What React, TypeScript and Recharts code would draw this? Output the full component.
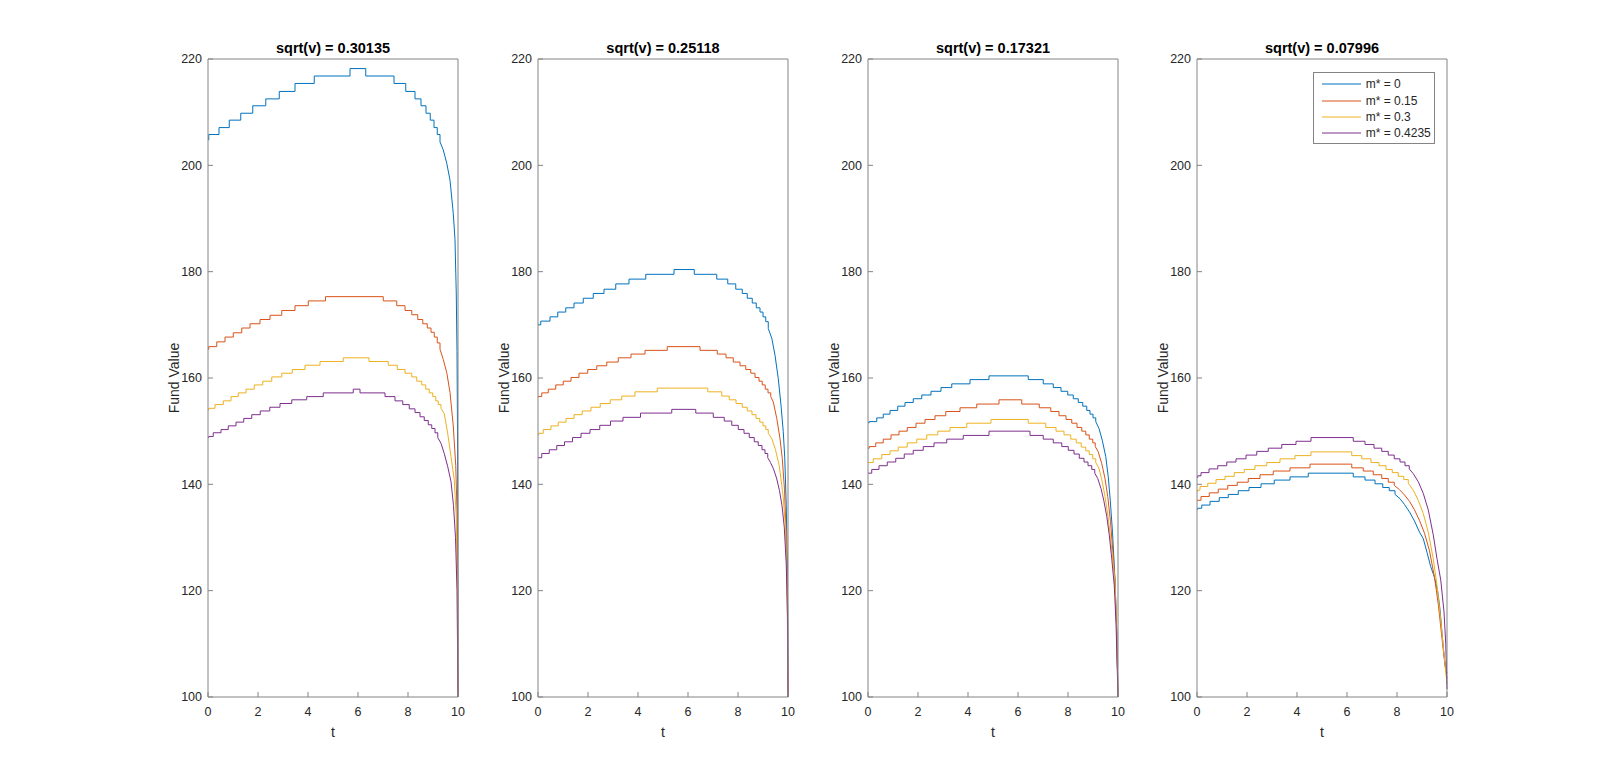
import React from "react";
import { LineChart, Line, XAxis, YAxis, Legend } from "recharts";

type Pt = [number, number];

const tTicks = [0, 2, 4, 6, 8, 10];
const vTicks = [100, 120, 140, 160, 180, 200, 220];
const seriesNames = ["m* = 0", "m* = 0.15", "m* = 0.3", "m* = 0.4235"];
const seriesColors = ["#0072BD", "#D95319", "#EDB120", "#7E2F8E"];
const panelTitles = [
  "sqrt(v) = 0.30135",
  "sqrt(v) = 0.25118",
  "sqrt(v) = 0.17321",
  "sqrt(v) = 0.07996",
];

// panel 1 : sqrt(v) = 0.30135
const p1m0: Pt[] = [
  [0, 204.8], [0.03, 205.8], [0.44, 207.1], [0.85, 208.5], [1.31, 209.8], [1.79, 211.2],
  [2.31, 212.5], [2.85, 213.9], [3.48, 215.4], [4.25, 216.8], [5.68, 218.2], [6.31, 216.8],
  [7.44, 215.4], [7.91, 213.9], [8.28, 212.5], [8.52, 211.2], [8.72, 209.8], [8.89, 208.5],
  [9.04, 207.1], [9.17, 205.8], [9.28, 204.4], [9.41, 202.9], [9.55, 200.4], [9.68, 197.2],
  [9.81, 191.0], [9.88, 186.0], [9.93, 176], [9.96, 165], [9.98, 150], [9.99, 135], [10, 100],
];
const p1m15: Pt[] = [
  [0, 165.4], [0.03, 165.9], [0.35, 166.8], [0.68, 167.7], [1.01, 168.5], [1.35, 169.4],
  [1.68, 170.2], [2.08, 171.0], [2.48, 171.8], [2.95, 172.7], [3.48, 173.6], [4.01, 174.5],
  [4.7, 175.3], [7.01, 174.5], [7.55, 173.6], [7.88, 172.7], [8.15, 171.9], [8.39, 171.0],
  [8.59, 170.2], [8.77, 169.4], [8.92, 168.6], [9.05, 167.7], [9.17, 166.6], [9.28, 165.4],
  [9.41, 163.5], [9.55, 161.0], [9.68, 157.3], [9.81, 151.0], [9.91, 143.5], [9.96, 135],
  [9.99, 120], [10, 100],
];
const p1m30: Pt[] = [
  [0, 154.0], [0.03, 154.3], [0.28, 155.0], [0.61, 155.7], [0.92, 156.5], [1.21, 157.2],
  [1.52, 157.9], [1.85, 158.7], [2.19, 159.4], [2.55, 160.2], [2.95, 160.9], [3.37, 161.6],
  [3.88, 162.4], [4.48, 163.1], [5.41, 163.8], [6.44, 163.1], [7.21, 162.4], [7.57, 161.6],
  [7.88, 160.9], [8.15, 160.2], [8.35, 159.4], [8.55, 158.7], [8.71, 157.9], [8.85, 157.2],
  [8.99, 156.5], [9.11, 155.7], [9.21, 155.0], [9.32, 154.3], [9.45, 153.3], [9.59, 149.5],
  [9.72, 145.2], [9.85, 140.8], [9.93, 134], [9.98, 120], [10, 100],
];
const p1m42: Pt[] = [
  [0, 148.8], [0.03, 149.0], [0.21, 149.7], [0.52, 150.3], [0.81, 151.0], [1.12, 151.7],
  [1.43, 152.4], [1.75, 153.1], [2.09, 153.8], [2.47, 154.5], [2.88, 155.2], [3.35, 155.9],
  [3.95, 156.5], [4.61, 157.2], [5.81, 157.9], [6.08, 157.2], [7.08, 156.5], [7.48, 155.7],
  [7.79, 155.0], [8.05, 154.2], [8.28, 153.5], [8.48, 152.7], [8.65, 152.0], [8.81, 151.2],
  [8.95, 150.5], [9.08, 149.7], [9.19, 148.8], [9.32, 147.7], [9.45, 145.8], [9.59, 143.3],
  [9.72, 140.5], [9.82, 136], [9.9, 130], [9.96, 120], [10, 100],
];

// panel 2 : sqrt(v) = 0.25118
const p2m0: Pt[] = [
  [0, 170.0], [0.11, 170.7], [0.48, 171.5], [0.79, 172.4], [1.11, 173.2], [1.44, 174.1],
  [1.81, 175.0], [2.21, 175.9], [2.64, 176.7], [3.11, 177.7], [3.64, 178.6], [4.31, 179.5],
  [5.44, 180.4], [6.25, 179.5], [7.15, 178.6], [7.59, 177.7], [7.91, 176.7], [8.17, 175.9],
  [8.37, 175.0], [8.57, 174.1], [8.73, 173.2], [8.88, 172.4], [9.0, 171.5], [9.11, 170.6],
  [9.21, 169.3], [9.35, 167.5], [9.48, 164.3], [9.61, 159.9], [9.72, 154.9], [9.81, 149.9],
  [9.87, 145], [9.93, 136], [9.97, 125], [9.99, 115], [10, 100],
];
const p2m15: Pt[] = [
  [0, 156.5], [0.15, 157.2], [0.41, 157.9], [0.71, 158.7], [1.01, 159.4], [1.32, 160.1],
  [1.64, 160.9], [1.99, 161.6], [2.35, 162.3], [2.75, 163.0], [3.21, 163.8], [3.72, 164.5],
  [4.28, 165.2], [5.17, 165.9], [6.48, 165.2], [7.17, 164.5], [7.52, 163.8], [7.81, 163.0],
  [8.08, 162.3], [8.31, 161.6], [8.51, 160.9], [8.68, 160.1], [8.84, 159.4], [8.97, 158.7],
  [9.09, 157.9], [9.2, 157.2], [9.31, 156.5], [9.41, 155.5], [9.55, 152.4], [9.68, 148.6],
  [9.77, 144.9], [9.86, 139], [9.93, 130], [9.98, 118], [10, 100],
];
const p2m30: Pt[] = [
  [0, 149.3], [0.03, 149.6], [0.21, 150.3], [0.52, 151.0], [0.81, 151.7], [1.12, 152.4],
  [1.44, 153.1], [1.77, 153.8], [2.12, 154.5], [2.49, 155.2], [2.89, 155.9], [3.35, 156.6],
  [3.88, 157.4], [4.77, 158.1], [6.79, 157.4], [7.35, 156.6], [7.65, 155.9], [7.92, 155.2],
  [8.17, 154.5], [8.37, 153.8], [8.56, 153.1], [8.72, 152.4], [8.87, 151.7], [9.0, 151.0],
  [9.11, 150.3], [9.21, 149.6], [9.35, 148.6], [9.5, 146.5], [9.65, 143.5], [9.8, 138],
  [9.9, 132], [9.96, 122], [10, 100],
];
const p2m42: Pt[] = [
  [0, 145.0], [0.15, 145.8], [0.45, 146.5], [0.75, 147.3], [1.06, 148.0], [1.38, 148.8],
  [1.72, 149.6], [2.08, 150.3], [2.47, 151.1], [2.9, 151.9], [3.4, 152.6], [4.1, 153.4],
  [5.35, 154.1], [6.31, 153.4], [7.01, 152.6], [7.45, 151.9], [7.75, 151.1], [8.01, 150.3],
  [8.24, 149.6], [8.45, 148.8], [8.65, 148.0], [8.81, 147.3], [8.96, 146.5], [9.08, 145.8],
  [9.19, 145.0], [9.3, 144.1], [9.42, 142.9], [9.54, 141.2], [9.66, 138.8], [9.76, 136],
  [9.85, 132], [9.93, 125], [9.98, 115], [10, 100],
];

// panel 3 : sqrt(v) = 0.17321
const p3m0: Pt[] = [
  [0, 151.6], [0.05, 151.8], [0.35, 152.5], [0.61, 153.2], [0.88, 153.9], [1.19, 154.7],
  [1.48, 155.4], [1.81, 156.1], [2.15, 156.8], [2.52, 157.5], [2.92, 158.2], [3.35, 158.9],
  [4.08, 159.7], [4.84, 160.4], [6.41, 159.7], [7.01, 158.9], [7.41, 158.2], [7.72, 157.5],
  [7.99, 156.8], [8.21, 156.1], [8.41, 155.4], [8.59, 154.7], [8.75, 153.9], [8.88, 153.2],
  [9.0, 152.5], [9.11, 151.8], [9.24, 150.5], [9.37, 148.3], [9.51, 145.2], [9.61, 141.4],
  [9.69, 137.0], [9.78, 131], [9.88, 122], [9.95, 112], [10, 100],
];
const p3m15: Pt[] = [
  [0, 146.8], [0.05, 147.1], [0.31, 147.8], [0.61, 148.5], [0.92, 149.3], [1.24, 150.0],
  [1.57, 150.7], [1.92, 151.5], [2.28, 152.2], [2.68, 152.9], [3.11, 153.7], [3.68, 154.4],
  [4.35, 155.1], [5.24, 155.9], [6.15, 155.1], [6.85, 154.4], [7.31, 153.7], [7.64, 152.9],
  [7.92, 152.2], [8.15, 151.5], [8.36, 150.7], [8.55, 150.0], [8.71, 149.3], [8.85, 148.5],
  [8.99, 147.8], [9.09, 147.1], [9.21, 146.1], [9.35, 143.9], [9.48, 141.1], [9.59, 137.7],
  [9.7, 133], [9.8, 127], [9.88, 122], [9.95, 112], [10, 100],
];
const p3m30: Pt[] = [
  [0, 144.1], [0.21, 144.8], [0.55, 145.6], [0.88, 146.3], [1.21, 147.0], [1.57, 147.8],
  [1.95, 148.5], [2.35, 149.3], [2.79, 150.0], [3.28, 150.7], [3.95, 151.5], [4.92, 152.2],
  [6.41, 151.5], [7.11, 150.7], [7.52, 150.0], [7.84, 149.3], [8.11, 148.5], [8.33, 147.8],
  [8.53, 147.0], [8.71, 146.3], [8.85, 145.6], [8.99, 144.8], [9.11, 144.1], [9.24, 143.0],
  [9.37, 140.5], [9.48, 137.7], [9.6, 134], [9.7, 130], [9.8, 125.5], [9.88, 121.5],
  [9.95, 112], [10, 100],
];
const p3m42: Pt[] = [
  [0, 142.1], [0.15, 142.8], [0.44, 143.5], [0.77, 144.2], [1.11, 144.9], [1.45, 145.7],
  [1.81, 146.4], [2.21, 147.1], [2.64, 147.8], [3.15, 148.5], [3.81, 149.2], [4.84, 150.0],
  [6.48, 149.2], [7.01, 148.5], [7.41, 147.8], [7.75, 147.1], [8.01, 146.4], [8.24, 145.7],
  [8.45, 144.9], [8.64, 144.2], [8.8, 143.5], [8.95, 142.8], [9.07, 142.1], [9.19, 141.1],
  [9.32, 139.2], [9.43, 137.0], [9.55, 134], [9.65, 130.5], [9.75, 126], [9.85, 121],
  [9.92, 114], [10, 100],
];

// panel 4 : sqrt(v) = 0.07996
const p4m0: Pt[] = [
  [0, 135.3], [0.03, 135.5], [0.19, 136.1], [0.52, 136.8], [0.89, 137.5], [1.25, 138.1],
  [1.65, 138.8], [2.08, 139.4], [2.56, 140.1], [3.09, 140.8], [3.72, 141.4], [4.45, 142.1],
  [6.25, 141.4], [6.72, 140.8], [7.12, 140.1], [7.43, 139.4], [7.69, 138.8], [7.92, 138.1],
  [8.12, 137.3], [8.3, 136.2], [8.5, 134.8], [8.7, 133.1], [8.9, 131.0], [9.05, 129.8],
  [9.2, 127.2], [9.35, 124.5], [9.5, 122.5], [9.63, 119.8], [9.72, 116.5], [9.8, 112],
  [9.88, 108], [9.94, 105.5], [10, 104.5],
];
const p4m15: Pt[] = [
  [0, 137.0], [0.16, 137.7], [0.49, 138.4], [0.85, 139.1], [1.23, 139.8], [1.61, 140.4],
  [2.05, 141.1], [2.52, 141.8], [3.05, 142.5], [3.72, 143.1], [4.52, 143.8], [6.19, 143.1],
  [6.65, 142.5], [7.05, 141.8], [7.39, 141.1], [7.65, 140.4], [7.89, 139.8], [8.1, 139.0],
  [8.3, 138.0], [8.5, 136.8], [8.7, 135.2], [8.9, 133.2], [9.1, 130.8], [9.3, 127.5],
  [9.5, 122.5], [9.65, 117.5], [9.8, 111], [9.92, 106], [10, 103.5],
];
const p4m30: Pt[] = [
  [0, 138.7], [0.03, 138.9], [0.12, 139.6], [0.43, 140.2], [0.76, 140.9], [1.12, 141.5],
  [1.49, 142.2], [1.89, 142.8], [2.32, 143.5], [2.79, 144.1], [3.32, 144.8], [3.92, 145.4],
  [4.56, 146.1], [6.19, 145.4], [6.59, 144.8], [6.96, 144.1], [7.28, 143.5], [7.56, 142.8],
  [7.81, 142.2], [8.05, 141.5], [8.27, 140.9], [8.45, 140.2], [8.65, 138.9], [8.85, 137.0],
  [9.05, 134.5], [9.25, 131], [9.45, 126], [9.6, 121], [9.75, 114.5], [9.88, 108], [10, 102.5],
];
const p4m42: Pt[] = [
  [0, 141.3], [0.03, 141.6], [0.16, 142.2], [0.48, 142.9], [0.83, 143.5], [1.19, 144.2],
  [1.56, 144.8], [1.96, 145.5], [2.39, 146.2], [2.85, 146.8], [3.39, 147.5], [3.96, 148.1],
  [4.56, 148.8], [6.25, 148.1], [6.72, 147.5], [7.08, 146.8], [7.39, 146.2], [7.65, 145.5],
  [7.89, 144.8], [8.12, 144.2], [8.32, 143.5], [8.49, 142.9], [8.65, 142.0], [8.85, 140.5],
  [9.05, 138.3], [9.25, 135.2], [9.45, 130.5], [9.6, 126], [9.75, 122], [9.88, 116],
  [9.95, 110], [10, 101.5],
];

const panels: Pt[][][] = [
  [p1m0, p1m15, p1m30, p1m42],
  [p2m0, p2m15, p2m30, p2m42],
  [p3m0, p3m15, p3m30, p3m42],
  [p4m0, p4m15, p4m30, p4m42],
];

// t where the visible steps end and the fine-grained fall-off starts
const tailStart = [
  [9.28, 9.28, 9.32, 9.19],
  [9.21, 9.31, 9.21, 9.19],
  [9.11, 9.09, 9.11, 9.07],
  [7.92, 7.89, 8.45, 8.49],
];

// layout (px) taken from the matlab figure
const plotLefts = [208, 538, 868, 1197];
const plotWidth = 250;
const yAxisW = 68;
const chartW = yAxisW + plotWidth + 10;
const figH = 783;

const font = '"Liberation Sans", Arial, Helvetica, sans-serif';
const axisGrey = "#848484";
const textGrey = "#262626";

const toRows = (pts: Pt[]) => pts.map(([t, v]) => ({ t, v }));

const renderLegend = (props: any) => {
  // only the step series carry a name from seriesNames, the tails are skipped
  const items = (props.payload || []).filter((e: any) => seriesNames.includes(e.value));
  return (
    <div
      style={{
        boxSizing: "border-box",
        width: 122.5,
        height: 72.6,
        border: `1px solid ${axisGrey}`,
        background: "#fff",
        paddingTop: 3.5,
        fontFamily: font,
        fontSize: 12,
        color: textGrey,
      }}
    >
      {items.map((e: any) => (
        <div key={e.value} style={{ display: "flex", alignItems: "center", height: 16.3 }}>
          <svg width={52} height={16} style={{ display: "block", flex: "none" }}>
            <line x1={8} x2={47} y1={8} y2={8} stroke={e.color} strokeWidth={1} />
          </svg>
          <span style={{ whiteSpace: "nowrap" }}>{e.value}</span>
        </div>
      ))}
    </div>
  );
};

const Panel = ({ idx }: { idx: number }) => {
  const left = plotLefts[idx] - yAxisW;
  return (
    <div style={{ position: "absolute", left, top: 0 }}>
      <LineChart
        width={chartW}
        height={figH}
        margin={{ top: 58, right: 9, bottom: 56, left: 0 }}
        style={{ fontFamily: font }}
      >
        <XAxis
          type="number"
          dataKey="t"
          domain={[0, 10]}
          ticks={tTicks}
          interval={0}
          height={30}
          tickSize={-5}
          tickMargin={15}
          axisLine={{ stroke: axisGrey }}
          tickLine={{ stroke: axisGrey }}
          tick={{ fill: textGrey, fontSize: 12.5 }}
          label={{ value: "t", position: "bottom", offset: 0, fill: textGrey, fontSize: 14 }}
        />
        <XAxis
          xAxisId="top"
          orientation="top"
          type="number"
          dataKey="t"
          domain={[0, 10]}
          ticks={tTicks}
          interval={0}
          height={1}
          tickSize={-5}
          axisLine={{ stroke: axisGrey }}
          tickLine={{ stroke: axisGrey }}
          tick={false}
          label={{
            value: panelTitles[idx],
            position: "top",
            offset: 5.5,
            fill: "#000",
            fontSize: 14.5,
            fontWeight: "bold",
          }}
        />
        <YAxis
          type="number"
          domain={[100, 220]}
          ticks={vTicks}
          interval={0}
          width={yAxisW}
          tickSize={-5}
          tickMargin={11}
          axisLine={{ stroke: axisGrey }}
          tickLine={{ stroke: axisGrey }}
          tick={{ fill: textGrey, fontSize: 12.5 }}
          label={{ value: "Fund Value", angle: -90, position: "center", fill: textGrey, fontSize: 14 }}
        />
        <YAxis
          yAxisId="right"
          orientation="right"
          type="number"
          domain={[100, 220]}
          ticks={vTicks}
          interval={0}
          width={1}
          tickSize={-5}
          axisLine={{ stroke: axisGrey }}
          tickLine={{ stroke: axisGrey }}
          tick={false}
        />
        {panels[idx].map((pts, s) => {
          const cut = tailStart[idx][s];
          return (
            <React.Fragment key={seriesNames[s]}>
              <Line
                data={toRows(pts.filter((p) => p[0] <= cut))}
                dataKey="v"
                name={seriesNames[s]}
                type="stepAfter"
                stroke={seriesColors[s]}
                strokeWidth={1}
                dot={false}
                activeDot={false}
                isAnimationActive={false}
              />
              <Line
                data={toRows(pts.filter((p) => p[0] >= cut))}
                dataKey="v"
                name={seriesNames[s] + " tail"}
                legendType="none"
                type="linear"
                stroke={seriesColors[s]}
                strokeWidth={1}
                dot={false}
                activeDot={false}
                isAnimationActive={false}
              />
            </React.Fragment>
          );
        })}
        {idx === 3 && (
          <Legend
            layout="vertical"
            align="center"
            verticalAlign="middle"
            wrapperStyle={{ left: 1312.7 - left, top: 71.7, width: 122.5, height: 72.6 }}
            content={renderLegend}
          />
        )}
      </LineChart>
    </div>
  );
};

export default function App() {
  return (
    <div
      style={{
        position: "absolute",
        left: 0,
        top: 0,
        width: 1600,
        height: figH,
        background: "#fff",
        overflow: "hidden",
      }}
    >
      {[0, 1, 2, 3].map((i) => (
        <Panel key={i} idx={i} />
      ))}
    </div>
  );
}
